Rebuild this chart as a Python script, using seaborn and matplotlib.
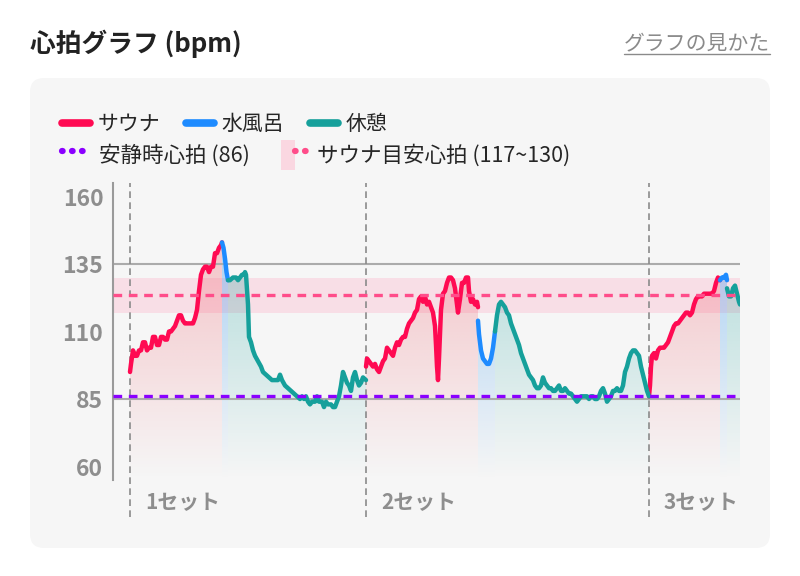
import numpy as np
import pandas as pd
import matplotlib
matplotlib.use("Agg")
import matplotlib.pyplot as plt
import matplotlib.colors as mcolors
import matplotlib.transforms as mtransforms
from matplotlib.patches import Polygon, Patch, FancyBboxPatch
from matplotlib.lines import Line2D
from matplotlib.legend_handler import HandlerTuple
import seaborn as sns

# ---- data (minutes from start of set 1, bpm) ----
SET_STARTS = [0.0, 23.6, 51.9]
SET_LABELS = ["1セット", "2セット", "3セット"]
REST_HR = 86
SAUNA_LOW, SAUNA_HIGH = 117, 130
Y_TICKS = [60, 85, 110, 135, 160]

s1_sauna_t = [0.0, 0.1, 0.3, 0.5, 0.7, 0.9, 1.1, 1.3, 1.5, 1.7, 1.9, 2.1, 2.3, 2.5,
              2.7, 2.9, 3.1, 3.3, 3.5, 3.7, 3.9, 4.1, 4.3, 4.5, 4.7, 4.9, 5.1, 5.3,
              5.5, 5.7, 5.9, 6.1, 6.3, 6.5, 6.7, 6.9, 7.1, 7.3, 7.5, 7.7, 7.9, 8.1,
              8.3, 8.5, 8.7, 8.9, 9.1, 9.2]
s1_sauna_hr = [95, 98, 103, 101, 101, 103, 103, 106, 106, 103, 104, 104, 108, 108,
               105, 105, 108, 108, 107, 107, 110, 110, 111, 112, 114, 116, 116, 114,
               113, 113, 113, 113, 113, 115, 118, 125, 131, 133, 134, 134, 132, 134,
               134, 139, 139, 141, 142, 143]
s1_water_t = [9.2, 9.35, 9.5, 9.65, 9.8]
s1_water_hr = [143, 141, 137, 132, 129]
s1_rest_t = [9.8, 10.0, 10.3, 10.6, 10.8, 11.0, 11.2, 11.4, 11.5, 11.6, 11.8, 11.9,
             12.1, 12.3, 12.5, 12.8, 13.1, 13.3, 13.6, 13.9, 14.2, 14.5, 14.8, 15.0,
             15.2, 15.5, 15.8, 16.1, 16.4, 16.7, 17.0, 17.2, 17.4, 17.6, 17.8, 18.0,
             18.2, 18.5, 18.7, 18.9, 19.2, 19.4, 19.6, 19.8, 20.1, 20.3, 20.5, 20.7,
             20.9, 21.1, 21.3, 21.5, 21.7, 21.9, 22.1, 22.3, 22.5, 22.7, 22.9, 23.1,
             23.3, 23.6]
s1_rest_hr = [129, 129, 130, 130, 129, 130, 131, 131, 132, 131, 120, 108,
              106, 103, 101, 99, 97, 95, 94, 93, 92, 92, 92, 94,
              92, 90, 89, 88, 87, 86, 85, 86, 85, 86, 84, 83,
              84, 84, 86, 84, 84, 82, 84, 83, 83, 82, 82, 84,
              86, 90, 95, 93, 91, 90, 88, 93, 95, 92, 90, 91,
              93, 92]

s2_sauna_t = [23.6, 23.7, 23.9, 24.1, 24.3, 24.5, 24.7, 24.9, 25.1, 25.3, 25.5, 25.7,
              25.9, 26.1, 26.3, 26.5, 26.7, 26.9, 27.1, 27.3, 27.5, 27.7, 27.9, 28.1,
              28.3, 28.5, 28.7, 28.9, 29.1, 29.3, 29.5, 29.7, 29.9, 30.1, 30.3, 30.5,
              30.6, 30.7, 30.8, 30.9, 31.1, 31.3, 31.5, 31.7, 31.9, 32.1, 32.3, 32.5,
              32.7, 32.8, 33.0, 33.2, 33.4, 33.6, 33.8, 33.9, 34.1, 34.3, 34.5, 34.7,
              34.8]
s2_sauna_hr = [97, 100, 99, 98, 97, 98, 96, 95, 97, 99, 100, 104,
               103, 102, 101, 104, 106, 105, 107, 108, 108, 111, 113, 114,
               115, 117, 118, 122, 123, 121, 123, 120, 121, 119, 117, 112,
               105, 97, 92, 100, 118, 124, 125, 128, 130, 130, 129, 126,
               120, 117, 122, 128, 128, 130, 130, 125, 121, 122, 120, 121,
               119]
s2_water_t = [34.8, 34.9, 35.1, 35.3, 35.5, 35.7, 35.9, 36.1, 36.3, 36.5]
s2_water_hr = [114, 109, 103, 100, 99, 98, 98, 100, 104, 110]
s2_rest_t = [36.5, 36.7, 36.9, 37.1, 37.3, 37.5, 37.7, 37.9, 38.1, 38.3, 38.5, 38.7,
             38.9, 39.1, 39.3, 39.5, 39.7, 39.9, 40.1, 40.3, 40.5, 40.7, 40.9, 41.1,
             41.3, 41.5, 41.7, 41.9, 42.1, 42.3, 42.5, 42.7, 42.9, 43.1, 43.3, 43.5,
             43.7, 43.9, 44.1, 44.3, 44.5, 44.7, 44.9, 45.1, 45.3, 45.5, 45.7, 45.9,
             46.1, 46.3, 46.5, 46.7, 46.9, 47.1, 47.3, 47.5, 47.7, 47.9, 48.1, 48.3,
             48.5, 48.7, 48.9, 49.1, 49.3, 49.5, 49.7, 49.9, 50.1, 50.3, 50.5, 50.7,
             50.9, 51.1, 51.3, 51.5, 51.7, 51.9]
s2_rest_hr = [110, 116, 120, 121, 120, 119, 117, 116, 113, 111, 109, 107,
              105, 102, 100, 98, 96, 94, 93, 92, 90, 89, 89, 90,
              93, 91, 90, 89, 89, 88, 88, 89, 90, 88, 88, 89,
              88, 87, 87, 86, 85, 84, 85, 86, 86, 86, 86, 85,
              86, 86, 85, 85, 86, 88, 89, 87, 84, 85, 86, 88,
              88, 89, 88, 88, 90, 95, 97, 100, 102, 103, 103, 102,
              101, 97, 94, 91, 88, 86]

s3_sauna_t = [51.9, 52.0, 52.1, 52.2, 52.4, 52.6, 52.8, 53.0, 53.2, 53.4, 53.6, 53.8,
              54.0, 54.2, 54.4, 54.6, 54.8, 55.0, 55.2, 55.4, 55.6, 55.8, 56.0, 56.2,
              56.4, 56.6, 56.8, 57.0, 57.2, 57.4, 57.6, 57.8, 58.0, 58.2, 58.4, 58.6,
              58.8, 59.0]
s3_sauna_hr = [86, 90, 97, 101, 102, 100, 103, 104, 104, 104, 105, 106,
               108, 110, 112, 113, 113, 114, 115, 116, 117, 117, 116, 117,
               120, 122, 123, 123, 123, 124, 124, 124, 124, 124, 125, 128,
               130, 129]
s3_water_t = [59.0, 59.2, 59.4, 59.6, 59.7]
s3_water_hr = [129, 130, 130, 131, 129]
s3_rest_t = [59.7, 59.9, 60.1, 60.3, 60.5, 60.7, 60.9, 61.0]
s3_rest_hr = [126, 123, 123, 126, 127, 124, 121, 120]

segments = [
    ("サウナ", 1, s1_sauna_t, s1_sauna_hr), ("水風呂", 1, s1_water_t, s1_water_hr),
    ("休憩", 1, s1_rest_t, s1_rest_hr),
    ("サウナ", 2, s2_sauna_t, s2_sauna_hr), ("水風呂", 2, s2_water_t, s2_water_hr),
    ("休憩", 2, s2_rest_t, s2_rest_hr),
    ("サウナ", 3, s3_sauna_t, s3_sauna_hr), ("水風呂", 3, s3_water_t, s3_water_hr),
    ("休憩", 3, s3_rest_t, s3_rest_hr),
]
rows = []
for i, (phase, st, ts, hs) in enumerate(segments):
    for t, h in zip(ts, hs):
        rows.append({"t": t, "bpm": h, "phase": phase, "seg": i})
df = pd.DataFrame(rows)

# ---- style ----
PALETTE = {"サウナ": "#FF0A52", "水風呂": "#1E8BFF", "休憩": "#16A09B"}
FILL = {"サウナ": "#F0505E", "水風呂": "#3A9AF0", "休憩": "#16A09B"}
FILL_ALPHA = {"サウナ": 0.32, "水風呂": 0.42, "休憩": 0.32}
REST_COLOR = "#8A00FF"
TARGET_COLOR = "#FF4D8A"
BAND_COLOR = "#FAD7E1"
GREY = "#8E8E8E"
YMIN, YMAX = 55, 165

sns.set_theme(style="white")
plt.rcParams["font.family"] = ["Noto Sans CJK JP", "DejaVu Sans"]

fig = plt.figure(figsize=(8, 5.76), dpi=100, facecolor="white")
fig.add_artist(FancyBboxPatch((30, 28), 740, 470, boxstyle="round,pad=0,rounding_size=14",
                              transform=mtransforms.IdentityTransform(),
                              facecolor="#F6F6F6", edgecolor="none", zorder=0))
ax = fig.add_axes([113 / 800, 1 - 480 / 576, 627 / 800, 297 / 576])
ax.set_facecolor("none")


def gradient_fill(ax, t, y, color, a_top):
    t = np.asarray(t, float); y = np.asarray(y, float)
    verts = [(t[0], YMIN)] + list(zip(t, y)) + [(t[-1], YMIN)]
    poly = Polygon(verts, closed=True, facecolor="none", edgecolor="none")
    ax.add_patch(poly)
    grad = np.zeros((200, 1, 4))
    grad[:, :, :3] = mcolors.to_rgb(color)
    grad[:, 0, 3] = np.linspace(a_top, 0.0, 200)
    im = ax.imshow(grad, aspect="auto", origin="upper", extent=[t[0], t[-1], YMIN, 148],
                   zorder=1, interpolation="bilinear")
    im.set_clip_path(poly)


ax.axhspan(SAUNA_LOW, SAUNA_HIGH, color=BAND_COLOR, alpha=0.75, lw=0, zorder=0.5)
for phase, st, ts, hs in segments:
    gradient_fill(ax, ts, hs, FILL[phase], FILL_ALPHA[phase])

for yv in (135, 85):
    ax.axhline(yv, color="#ABABAB", lw=1.5, zorder=1.5)

sns.lineplot(data=df, x="t", y="bpm", hue="phase", units="seg", estimator=None,
             sort=False, palette=PALETTE, lw=3.2, legend=False, ax=ax, zorder=3,
             solid_capstyle="round", solid_joinstyle="round")

ax.axhline(REST_HR, color=REST_COLOR, lw=2.4, dashes=(2.6, 2.0), zorder=4)
ax.axhline((SAUNA_LOW + SAUNA_HIGH) / 2, color=TARGET_COLOR, lw=2.4, dashes=(2.6, 2.0), zorder=4)

blend = mtransforms.blended_transform_factory(ax.transData, ax.transAxes)
for xs, lab in zip(SET_STARTS, SET_LABELS):
    ax.axvline(xs, ymin=-0.125, ymax=1, color="#8A8A8A", lw=1.2, dashes=(4, 2.6),
               clip_on=False, zorder=2)
    ax.text(xs + 1.5, -0.075, lab, transform=blend, ha="left", va="center",
            fontsize=15, fontweight="bold", color=GREY)

ax.set_xlim(-1.7, 61.0)
ax.set_ylim(YMIN, YMAX)
ax.set_yticks(Y_TICKS)
ax.set_yticklabels([str(v) for v in Y_TICKS], fontsize=16.5, fontweight="bold", color=GREY)
ax.set_xticks([])
ax.tick_params(axis="y", length=0, pad=7)
ax.set_xlabel(""); ax.set_ylabel("")
for side in ("top", "right", "bottom"):
    ax.spines[side].set_visible(False)
ax.spines["left"].set_color("#9A9A9A")
ax.spines["left"].set_linewidth(1.5)

# ---- title / link ----
fig.text(30 / 800, 1 - 44 / 576, "心拍グラフ (bpm)", fontsize=18.5, fontweight="bold",
         color="#222222", ha="left", va="center")
fig.text(770 / 800, 1 - 43 / 576, "グラフの見かた", fontsize=15, color="#8A8A8A",
         ha="right", va="center")
fig.add_artist(Line2D([624 / 800, 770 / 800], [1 - 54 / 576, 1 - 54 / 576],
                      color="#8A8A8A", lw=1, transform=fig.transFigure))

# ---- legends ----
h1 = [Line2D([], [], color=PALETTE[p], lw=5.5, solid_capstyle="round") for p in PALETTE]
fig.legend(h1, list(PALETTE), loc="center left", bbox_to_anchor=(62 / 800, 1 - 124 / 576),
           ncol=3, frameon=False, fontsize=15, handlelength=1.35, handletextpad=0.35,
           columnspacing=1.25, borderpad=0, borderaxespad=0)
dots = dict(lw=4.5, linestyle=(0, (0.1, 1.5)), dash_capstyle="round")
h2 = [Line2D([], [], color=REST_COLOR, **dots),
      (Patch(facecolor=BAND_COLOR, edgecolor="none"), Line2D([], [], color=TARGET_COLOR, **dots))]
fig.legend(h2, [f"安静時心拍 ({REST_HR})", f"サウナ目安心拍 ({SAUNA_LOW}~{SAUNA_HIGH})"],
           loc="center left", bbox_to_anchor=(62 / 800, 1 - 155 / 576), ncol=2,
           frameon=False, fontsize=15.5, handlelength=1.3, handleheight=1.7,
           handletextpad=0.4, columnspacing=1.45, borderpad=0, borderaxespad=0,
           handler_map={tuple: HandlerTuple(ndivide=None)})

fig.savefig("out.png", dpi=100)
